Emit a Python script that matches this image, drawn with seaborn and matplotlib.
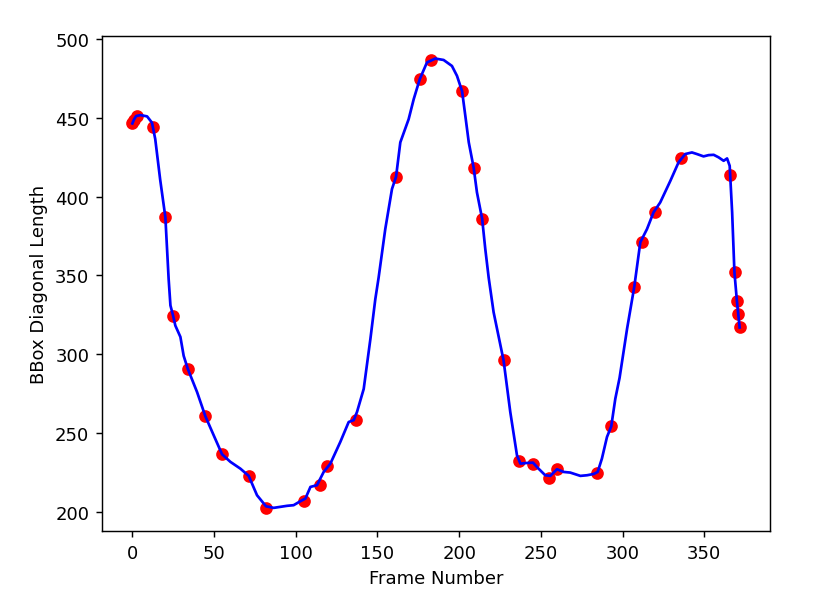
import matplotlib
matplotlib.use("Agg")
import matplotlib.pyplot as plt
import seaborn as sns
import pandas as pd

# Red sample points (frame, diagonal length)
point_frames = [0, 1, 3, 12.7, 20.2, 24.9, 33.9, 44.7, 54.9, 71.2, 81.8, 104.9, 115.1,
                119.1, 137.1, 161.4, 175.9, 182.6, 201.8, 208.9, 214.1, 227.2, 236.9,
                245.2, 255.2, 259.9, 284.4, 293.1, 307.2, 311.9, 319.6, 336.0, 366.0,
                369.0, 370.0, 370.9, 371.7]
point_values = [446.7, 449.0, 451.3, 444.0, 387.0, 324.6, 290.8, 260.6, 236.5, 222.8,
                202.1, 206.7, 216.9, 228.9, 258.5, 412.7, 474.6, 486.6, 467.0, 418.4,
                385.9, 296.1, 232.1, 230.6, 221.5, 227.2, 224.7, 254.2, 342.8, 371.5,
                390.1, 424.3, 414.0, 352.1, 334.1, 325.7, 317.0]

# Blue smoothed curve
line_frames = [0, 1, 2.3, 5, 9, 12, 14, 17, 20.2, 22.2, 23.3, 24.9, 26.3, 29.4, 31.4,
               33.9, 39.6, 44.7, 49.8, 54.9, 60, 66.1, 71.2, 76.3, 81.8, 86.5, 94.7,
               98.7, 102.8, 105.9, 109, 113, 117.1, 121.2, 127.3, 132.4, 135.5, 137.5,
               141.6, 145.7, 148.7, 150.7, 154.8, 158.9, 161.4, 164, 169.1, 172.2,
               175.9, 180.3, 185.4, 190.5, 195.6, 198.7, 201.8, 203.8, 205.9, 208.9,
               210.9, 214.1, 216, 218.1, 221.1, 227.2, 231.3, 235.4, 237.5, 241.5,
               245.2, 248.6, 252.7, 255.8, 259.9, 264, 268, 274.2, 278.3, 282.3, 284.8,
               287.4, 290.5, 293.1, 295.6, 298.2, 302.8, 307.2, 310.9, 315, 319, 323.1,
               329.3, 334.3, 338.4, 342.5, 345.5, 349.6, 352.7, 355.8, 358.8, 361.9,
               364, 365.6, 367.1, 368.5, 370, 371.7]
line_values = [446.5, 449.0, 451.2, 451.8, 451.0, 447.0, 436.6, 411.0, 387.0, 347.8,
               331.0, 324.6, 318.2, 311.0, 299.0, 290.8, 276.0, 260.6, 248.5, 236.5,
               231.7, 227.4, 222.8, 210.5, 203.5, 202.5, 203.8, 204.2, 206.7, 208.4,
               215.8, 216.9, 225.3, 230.6, 244.4, 257.0, 258.2, 263.4, 278.0, 309.8,
               335.0, 348.5, 379.5, 404.9, 412.7, 434.5, 449.2, 461.9, 474.6, 485.2,
               487.7, 486.8, 483.0, 476.7, 467.0, 451.3, 434.5, 418.4, 402.8, 385.9,
               366.9, 348.5, 326.7, 296.1, 263.4, 235.9, 230.6, 231.0, 231.2, 227.4,
               223.2, 222.8, 227.0, 225.3, 224.9, 222.8, 223.2, 224.0, 225.3, 233.8,
               247.5, 254.2, 271.8, 285.0, 316.2, 342.8, 371.1, 379.5, 390.1, 396.4,
               410.1, 421.8, 427.1, 428.1, 427.1, 425.6, 426.4, 426.6, 425.0, 422.8,
               424.3, 419.6, 390.1, 352.1, 334.0, 317.0]

points = pd.DataFrame({"frame": point_frames, "length": point_values})
curve = pd.DataFrame({"frame": line_frames, "length": line_values})

plt.rcdefaults()
plt.rcParams["font.family"] = ["DejaVu Sans"]

fig = plt.figure(figsize=(6.4, 4.592), dpi=130)
ax = fig.add_axes([0.1226, 0.1089, 0.8029, 0.8291])

sns.scatterplot(data=points, x="frame", y="length", ax=ax, color="red",
                s=36, edgecolor="red", linewidth=1, zorder=2)
sns.lineplot(data=curve, x="frame", y="length", ax=ax, color="blue",
             linewidth=1.5, zorder=3, sort=False, estimator=None)

ax.set_xlabel("Frame Number")
ax.set_ylabel("BBox Diagonal Length")
ax.set_xticks([0, 50, 100, 150, 200, 250, 300, 350])
ax.set_yticks([200, 250, 300, 350, 400, 450, 500])

fig.savefig("out.png", dpi=130)
